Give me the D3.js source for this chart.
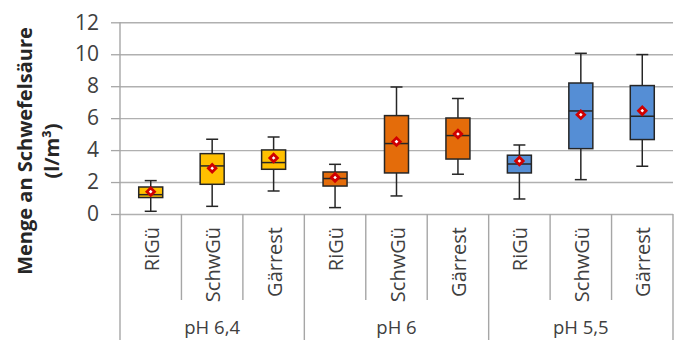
<!DOCTYPE html>
<html>
<head>
<meta charset="utf-8">
<script src="https://cdn.jsdelivr.net/npm/d3@7"></script>
<style>
  html, body { margin: 0; padding: 0; background: #fff; }
  svg { display: block; font-family: 'Open Sans', sans-serif; }
</style>
</head>
<body>
<svg id="chart" width="675" height="340"></svg>
<script>
const groups = ['pH 6,4', 'pH 6', 'pH 5,5'];
const categories = ['RiGü', 'SchwGü', 'Gärrest'];
const groupColors = ['#FFC000', '#E46C0A', '#558ED5'];
const yTicks = [0, 2, 4, 6, 8, 10, 12];

// one value per box, in order group by group
const whiskerLow = [0.17, 0.48, 1.44, 0.40, 1.13, 2.49, 0.94, 2.15, 2.99];
const quart1 = [1.03, 1.86, 2.80, 1.75, 2.57, 3.44, 2.57, 4.09, 4.66];
const median = [1.21, 3.01, 3.22, 2.22, 4.41, 4.91, 3.13, 6.45, 6.12];
const quart3 = [1.69, 3.78, 4.01, 2.63, 6.16, 6.01, 3.68, 8.20, 8.04];
const whiskerHigh = [2.09, 4.68, 4.82, 3.11, 7.95, 7.23, 4.32, 10.06, 9.98];
const means = [1.40, 2.86, 3.51, 2.28, 4.53, 5.01, 3.32, 6.22, 6.47];

const data = [];
groups.forEach((g, gi) => {
  categories.forEach((c, ci) => {
    const i = gi * categories.length + ci;
    data.push({
      key: `${g}|${c}`, group: g, gi, cat: c,
      lo: whiskerLow[i], q1: quart1[i], med: median[i], q3: quart3[i], hi: whiskerHigh[i], mean: means[i]
    });
  });
});

const plotLeft = 120, plotRight = 673, plotTop = 22.3, plotBottom = 214;
const svg = d3.select('#chart');

const x = d3.scaleBand().domain(data.map((d) => d.key)).range([plotLeft, plotRight]).padding(0);
const y = d3.scaleLinear().domain([0, 12]).range([plotBottom, plotTop]);
const bw = x.bandwidth();

// gridlines
svg.append('g')
  .attr('transform', `translate(${plotLeft},0)`)
  .call(d3.axisLeft(y).tickValues(yTicks).tickSize(-(plotRight - plotLeft)).tickFormat(''))
  .call((g) => g.select('.domain').remove())
  .call((g) => g.selectAll('line').attr('stroke', '#b0b0b0').attr('stroke-width', 1.4));

// y axis with outer ticks
svg.append('g')
  .attr('transform', `translate(${plotLeft},0)`)
  .call(d3.axisLeft(y).tickValues(yTicks).tickSize(9).tickPadding(12))
  .call((g) => g.select('.domain').remove())
  .call((g) => g.selectAll('line').attr('stroke', '#a6a6a6').attr('stroke-width', 1.3))
  .call((g) => g.selectAll('text').attr('font-family', "'Open Sans', sans-serif")
    .attr('font-size', 21).attr('fill', '#404040'));

// vertical axis line down to the bottom of the group labels
svg.append('line')
  .attr('x1', plotLeft).attr('x2', plotLeft).attr('y1', plotTop).attr('y2', 340)
  .attr('stroke', '#a6a6a6').attr('stroke-width', 1.4);

// category separators
const bounds = data.map((d, i) => ({ xPos: x(d.key) + bw, groupEnd: (i + 1) % categories.length === 0 }));
svg.append('g').selectAll('line')
  .data(bounds)
  .join('line')
  .attr('x1', (d) => d.xPos).attr('x2', (d) => d.xPos)
  .attr('y1', plotBottom)
  .attr('y2', (d) => (d.groupEnd ? 340 : 300))
  .attr('stroke', '#a6a6a6').attr('stroke-width', 1.4);

// category labels
svg.append('g').selectAll('text')
  .data(data)
  .join('text')
  .attr('transform', (d) => `translate(${x(d.key) + bw / 2 + 8},227) rotate(-90)`)
  .attr('text-anchor', 'end')
  .attr('font-size', 20)
  .attr('fill', '#404040')
  .text((d) => d.cat);

// group labels
svg.append('g').selectAll('text')
  .data(groups)
  .join('text')
  .attr('x', (g) => {
    const keys = data.filter((d) => d.group === g).map((d) => d.key);
    return (x(keys[0]) + x(keys[keys.length - 1]) + bw) / 2;
  })
  .attr('y', 334)
  .attr('text-anchor', 'middle')
  .attr('font-size', 18.5)
  .attr('fill', '#404040')
  .text((g) => g);

// boxes
const boxW = 24;
const capW = 12;
const box = svg.append('g').selectAll('g')
  .data(data)
  .join('g')
  .attr('transform', (d) => `translate(${x(d.key) + bw / 2},0)`);

box.append('line')
  .attr('x1', 0).attr('x2', 0)
  .attr('y1', (d) => y(d.hi)).attr('y2', (d) => y(d.lo))
  .attr('stroke', '#262626').attr('stroke-width', 1.5);
box.append('line')
  .attr('x1', -capW / 2).attr('x2', capW / 2)
  .attr('y1', (d) => y(d.hi)).attr('y2', (d) => y(d.hi))
  .attr('stroke', '#262626').attr('stroke-width', 1.5);
box.append('line')
  .attr('x1', -capW / 2).attr('x2', capW / 2)
  .attr('y1', (d) => y(d.lo)).attr('y2', (d) => y(d.lo))
  .attr('stroke', '#262626').attr('stroke-width', 1.5);
box.append('rect')
  .attr('x', -boxW / 2).attr('width', boxW)
  .attr('y', (d) => y(d.q3))
  .attr('height', (d) => y(d.q1) - y(d.q3))
  .attr('fill', (d) => groupColors[d.gi])
  .attr('stroke', '#262626').attr('stroke-width', 1.5);
box.append('line')
  .attr('x1', -boxW / 2).attr('x2', boxW / 2)
  .attr('y1', (d) => y(d.med)).attr('y2', (d) => y(d.med))
  .attr('stroke', '#262626').attr('stroke-width', 1.5);

// mean markers
box.append('path')
  .attr('d', d3.symbol(d3.symbolDiamond2, 36))
  .attr('transform', (d) => `translate(0,${y(d.mean)})`)
  .attr('fill', '#fff')
  .attr('stroke', '#d00000').attr('stroke-width', 2.8);

// axis title
const title = svg.append('text')
  .attr('transform', 'translate(32,151) rotate(-90)')
  .attr('text-anchor', 'middle')
  .attr('font-weight', 'bold')
  .attr('font-size', 20)
  .attr('fill', '#262626');
title.append('tspan').attr('x', 0).attr('y', 0).text('Menge an Schwefelsäure');
title.append('tspan').attr('x', 0).attr('y', 27).text('(l/m³)');
</script>
</body>
</html>
